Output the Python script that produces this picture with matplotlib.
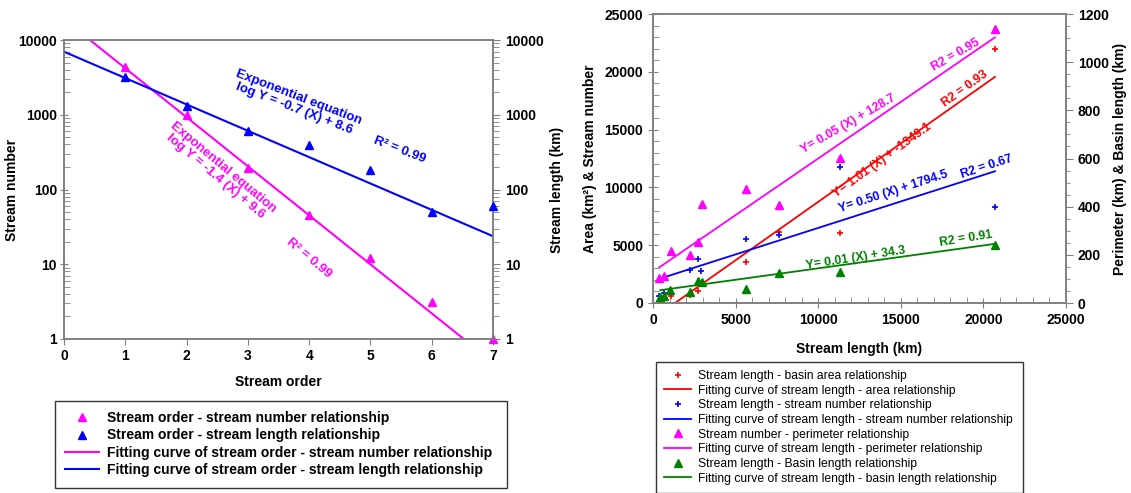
import numpy as np
import matplotlib
matplotlib.use('Agg')
import matplotlib.pyplot as plt
from matplotlib.ticker import MultipleLocator, FuncFormatter, LogLocator, NullFormatter

plt.rcParams['font.family'] = ['Liberation Sans', 'DejaVu Sans']

# ---- left panel: stream order ----
order = [1, 2, 3, 4, 5, 6, 7]
stream_number = [4400, 980, 195, 45, 12, 3.1, 1]
stream_length = [3160, 1300, 605, 388, 185, 50, 60]
# fitted curves as drawn, ln Y = a + b*X
num_fit = [9.85, -1.51]
len_fit = [8.85, -0.812]
fit_order = [0, 7]

# ---- right panel: stream length relationships ----
area_x = [380, 640, 1100, 2250, 2710, 5650, 7650, 11300, 20700]
area_y = [60, 240, 600, 720, 1000, 3550, 6100, 6060, 22000]
snum_x = [380, 640, 2250, 2710, 2910, 5650, 7650, 11300, 20700]
snum_y = [590, 900, 2850, 3820, 2750, 5570, 5880, 11800, 8320]
perim_x = [380, 640, 1100, 2250, 2710, 2950, 5650, 7650, 11300, 20700]
perim_y = [102, 112, 215, 198, 254, 409, 474, 407, 601, 1136]
blen_x = [440, 640, 1044, 2250, 2710, 2950, 5600, 7650, 11300, 20700]
blen_y = [24, 31, 54, 47, 92, 89, 59, 123, 130, 240]
# linear fits as drawn: Y = m*X + c
area_fit = [1.01, -1349.1]
snum_fit = [0.458, 1915]
perim_fit = [0.047, 130]
blen_fit = [0.0095, 49]

MAG = '#FF00FF'
BLU = '#0000FF'
RED = '#FF0000'
GRN = '#008000'
GREY = '#808080'

fig = plt.figure(figsize=(11.31, 4.93), dpi=100)

def style_spines(a):
    for s in a.spines.values():
        s.set_color(GREY)
        s.set_linewidth(1.2)

# ================= left panel =================
ax = fig.add_axes([64/1131, 1-339/493, 429/1131, 299/493])
ax2 = ax.twinx()
for a in (ax, ax2):
    a.set_yscale('log')
    a.set_ylim(1, 10000)
    a.set_xlim(0, 7)
    a.yaxis.set_major_locator(LogLocator(base=10))
    a.yaxis.set_minor_locator(LogLocator(base=10, subs=np.arange(2, 10)))
    a.yaxis.set_major_formatter(FuncFormatter(lambda v, p: '%d' % v))
    a.yaxis.set_minor_formatter(NullFormatter())
    style_spines(a)
ax.xaxis.set_major_locator(MultipleLocator(1))
ax.tick_params(axis='x', direction='out', length=4, color=GREY, labelsize=10)
ax.tick_params(axis='y', which='major', direction='inout', length=6, pad=2, color=GREY, labelsize=10)
ax.tick_params(axis='y', which='minor', direction='in', length=4, color=GREY)
ax2.tick_params(axis='y', which='major', direction='out', length=5, color=GREY, labelsize=10)
ax2.tick_params(axis='y', which='minor', direction='out', length=4, color=GREY)
for t in ax.get_xticklabels() + ax.get_yticklabels() + ax2.get_yticklabels():
    t.set_fontweight('bold')

xs = np.array(fit_order, dtype=float)
xx = np.linspace(xs[0], xs[1], 50)
h1, = ax.plot(order, stream_number, '^', color=MAG, ms=6, clip_on=False, zorder=5)
h2, = ax2.plot(order, stream_length, '^', color=BLU, ms=6, clip_on=False, zorder=5)
h3, = ax.plot(xx, np.exp(num_fit[0] + num_fit[1] * xx), color=MAG, lw=1.5)
h4, = ax2.plot(xx, np.exp(len_fit[0] + len_fit[1] * xx), color=BLU, lw=1.5)

ax.set_xlabel('Stream order', fontsize=10, fontweight='bold', labelpad=8)
ax.set_ylabel('Stream number', fontsize=10, fontweight='bold')
ax.yaxis.set_label_coords(-0.105, 0.5)
ax2.set_ylabel('Stream length (km)', fontsize=10, fontweight='bold', labelpad=5)

ax.text(3.79, 1436, 'Exponential equation\nlog Y = -0.7 (X) + 8.6', color=BLU,
        fontsize=9.5, fontweight='bold', rotation=-21, ha='center', va='center',
        rotation_mode='anchor', linespacing=1.0)
ax.text(5.48, 338, 'R² = 0.99', color=BLU, fontsize=9.5, fontweight='bold',
        rotation=-21, ha='center', va='center', rotation_mode='anchor')
ax.text(2.53, 171, 'Exponential equation\nlog Y = -1.4 (X) + 9.6', color=MAG,
        fontsize=9.5, fontweight='bold', rotation=-40, ha='center', va='center',
        rotation_mode='anchor', linespacing=1.0)
ax.text(4.0, 12.1, 'R² = 0.99', color=MAG, fontsize=9.5, fontweight='bold',
        rotation=-40, ha='center', va='center', rotation_mode='anchor')

leg1 = fig.legend([h1, h2, h3, h4],
                  ['Stream order - stream number relationship',
                   'Stream order - stream length relationship',
                   'Fitting curve of stream order - stream number relationship',
                   'Fitting curve of stream order - stream length relationship'],
                  loc='upper left', bbox_to_anchor=(55/1131, 1-401/493, 452/1131, 0.001),
                  mode='expand', fancybox=False, edgecolor='#333333', framealpha=1,
                  prop={'size': 10, 'weight': 'bold'}, labelspacing=0.25,
                  handlelength=2.4, handletextpad=0.6, borderpad=0.75, borderaxespad=0)
leg1.get_frame().set_linewidth(1.0)

# ================= right panel =================
ax3 = fig.add_axes([653/1131, 1-303/493, 413/1131, 289/493])
ax4 = ax3.twinx()
ax3.set_xlim(0, 25000)
ax3.set_ylim(0, 25000)
ax4.set_ylim(0, 1200)
ax3.xaxis.set_major_locator(MultipleLocator(5000))
ax3.xaxis.set_minor_locator(MultipleLocator(1000))
ax3.yaxis.set_major_locator(MultipleLocator(5000))
ax3.yaxis.set_minor_locator(MultipleLocator(1000))
ax4.yaxis.set_major_locator(MultipleLocator(200))
ax4.yaxis.set_minor_locator(MultipleLocator(50))
for a in (ax3, ax4):
    style_spines(a)
ax3.tick_params(axis='both', which='major', direction='inout', length=7, color=GREY, labelsize=10)
ax3.tick_params(axis='both', which='minor', direction='in', length=4, color=GREY)
ax4.tick_params(axis='y', which='major', direction='out', length=5, color=GREY, labelsize=10)
ax4.tick_params(axis='y', which='minor', direction='out', length=3, color=GREY)
for t in ax3.get_xticklabels() + ax3.get_yticklabels() + ax4.get_yticklabels():
    t.set_fontweight('bold')

def fit_line(a, x, fit, color):
    xl = np.array([min(x), max(x)], dtype=float)
    return a.plot(xl, fit[0] * xl + fit[1], color=color, lw=1.3)[0]

r1, = ax3.plot(area_x, area_y, '+', color=RED, ms=5, mew=1.2, zorder=5)
r2 = fit_line(ax3, area_x, area_fit, RED)
b1, = ax3.plot(snum_x, snum_y, '+', color=BLU, ms=5, mew=1.2, zorder=5)
b2 = fit_line(ax3, snum_x, snum_fit, BLU)
m1, = ax4.plot(perim_x, perim_y, '^', color=MAG, ms=6, zorder=5)
m2 = fit_line(ax4, perim_x, perim_fit, MAG)
g1, = ax4.plot(blen_x, blen_y, '^', color=GRN, ms=6, zorder=5)
g2 = fit_line(ax4, blen_x, blen_fit, GRN)

ax3.set_xlabel('Stream length (km)', fontsize=10, fontweight='bold', labelpad=11)
ax3.set_ylabel('Area (km²) & Stream number', fontsize=10, fontweight='bold')
ax3.yaxis.set_label_coords(-0.136, 0.5)
ax4.set_ylabel('Perimeter (km) & Basin length (km)', fontsize=10, fontweight='bold', labelpad=3)

tk = dict(fontsize=8.8, fontweight='bold', ha='center', va='center', rotation_mode='anchor')
ax3.text(11820, 15440, 'Y= 0.05 (X) + 128.7', color=MAG, rotation=30, **tk)
ax3.text(18330, 21415, 'R2 = 0.95', color=MAG, rotation=30, **tk)
ax3.text(13860, 12370, 'Y= 1.01 (X) + -1349.1', color=RED, rotation=36, **tk)
ax3.text(18890, 18500, 'R2 = 0.93', color=RED, rotation=36, **tk)
ax3.text(14530, 9600, 'Y= 0.50 (X) + 1794.5', color=BLU, rotation=18, **tk)
ax3.text(20200, 11790, 'R2 = 0.67', color=BLU, rotation=18, **tk)
ax3.text(12280, 3900, 'Y= 0.01 (X) + 34.3', color=GRN, rotation=9, **tk)
ax3.text(18950, 5510, 'R2 = 0.91', color=GRN, rotation=9, **tk)

leg2 = fig.legend([r1, r2, b1, b2, m1, m2, g1, g2],
                  ['Stream length - basin area relationship',
                   'Fitting curve of stream length - area relationship',
                   'Stream length - stream number relationship',
                   'Fitting curve of stream length - stream number relationship',
                   'Stream number - perimeter relationship',
                   'Fitting curve of stream length - perimeter relationship',
                   'Stream length - Basin length relationship',
                   'Fitting curve of stream length - basin length relationship'],
                  loc='upper left', bbox_to_anchor=(656/1131, 1-362/493, 367/1131, 0.001),
                  mode='expand', fancybox=False, edgecolor='#333333', framealpha=1,
                  prop={'size': 8.7}, labelspacing=0.22,
                  handlelength=2.2, handletextpad=0.6, borderpad=0.7, borderaxespad=0)
leg2.get_frame().set_linewidth(1.0)

fig.savefig('out.png', dpi=100)
